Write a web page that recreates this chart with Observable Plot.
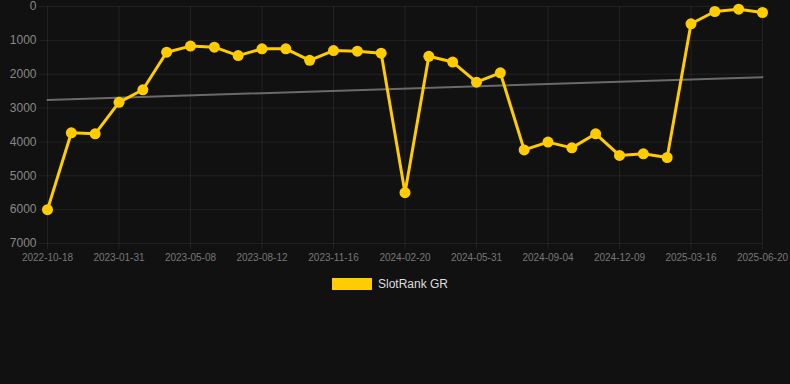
<!DOCTYPE html>
<html>
<head>
<meta charset="utf-8">
<script src="https://cdn.jsdelivr.net/npm/d3@7"></script>
<script src="https://cdn.jsdelivr.net/npm/@observablehq/plot@0.6"></script>
<style>
  html, body { margin: 0; padding: 0; background: #111111; }
  body { width: 790px; height: 384px; overflow: hidden; font-family: "Liberation Sans", Arial, sans-serif; }
  #chart svg { display: block; background: #111111; }
  .legend { position: absolute; left: 332px; top: 278px; display: flex; align-items: center; }
  .legend .sw { width: 40px; height: 12px; background: #ffcc00; margin-right: 6px; }
  .legend span { color: #dddddd; font-size: 12px; line-height: 12px; }
</style>
</head>
<body>
<div id="chart"></div>
<div class="legend"><div class="sw"></div><span>SlotRank GR</span></div>
<script>
const tickLabels = ["2022-10-18","2023-01-31","2023-05-08","2023-08-12","2023-11-16","2024-02-20","2024-05-31","2024-09-04","2024-12-09","2025-03-16","2025-06-20"];
const rankValues = [6000,3730,3760,2830,2460,1350,1170,1200,1450,1250,1250,1590,1300,1320,1380,5500,1470,1640,2235,1960,4235,4005,4175,3760,4400,4350,4460,510,148,80,177];
const trendValues = [2760, 2090];
const yTicks = [0,1000,2000,3000,4000,5000,6000,7000];
const seriesName = "SlotRank GR";

const data = rankValues.map((v, i) => ({i, v}));
const n = rankValues.length - 1;
const trend = [{i: 0, v: trendValues[0]}, {i: n, v: trendValues[1]}];
const xTicks = tickLabels.map((_, k) => k * 3);

const plot = Plot.plot({
  width: 790,
  height: 270,
  marginLeft: 47,
  marginRight: 28,
  marginTop: 6,
  marginBottom: 27,
  style: {background: "#111111", fontFamily: "'Liberation Sans', Arial, sans-serif"},
  x: {type: "linear", domain: [0, n]},
  y: {domain: [0, 7000], reverse: true},
  marks: [
    Plot.gridY(yTicks, {stroke: "#ffffff", strokeOpacity: 0.07}),
    Plot.gridX(xTicks, {stroke: "#ffffff", strokeOpacity: 0.07}),
    Plot.axisY(yTicks, {tickSize: 8, tickPadding: 3, stroke: "#ffffff", strokeOpacity: 0.07, fill: "#888888", fontSize: 12, label: null, tickFormat: d => String(d)}),
    Plot.axisX(xTicks, {tickSize: 6, tickPadding: 4, stroke: "#ffffff", strokeOpacity: 0.07, fill: "#777777", fontSize: 10, label: null, tickFormat: d => tickLabels[d / 3]}),
    Plot.line(trend, {x: "i", y: "v", stroke: "#6a6a6a", strokeWidth: 2}),
    Plot.line(data, {x: "i", y: "v", stroke: "#ffcc00", strokeWidth: 3}),
    Plot.dot(data, {x: "i", y: "v", r: 5.5, fill: "#ffcc00", stroke: "none", title: d => `${seriesName}: ${d.v}`})
  ]
});
document.getElementById("chart").append(plot);
</script>
</body>
</html>
